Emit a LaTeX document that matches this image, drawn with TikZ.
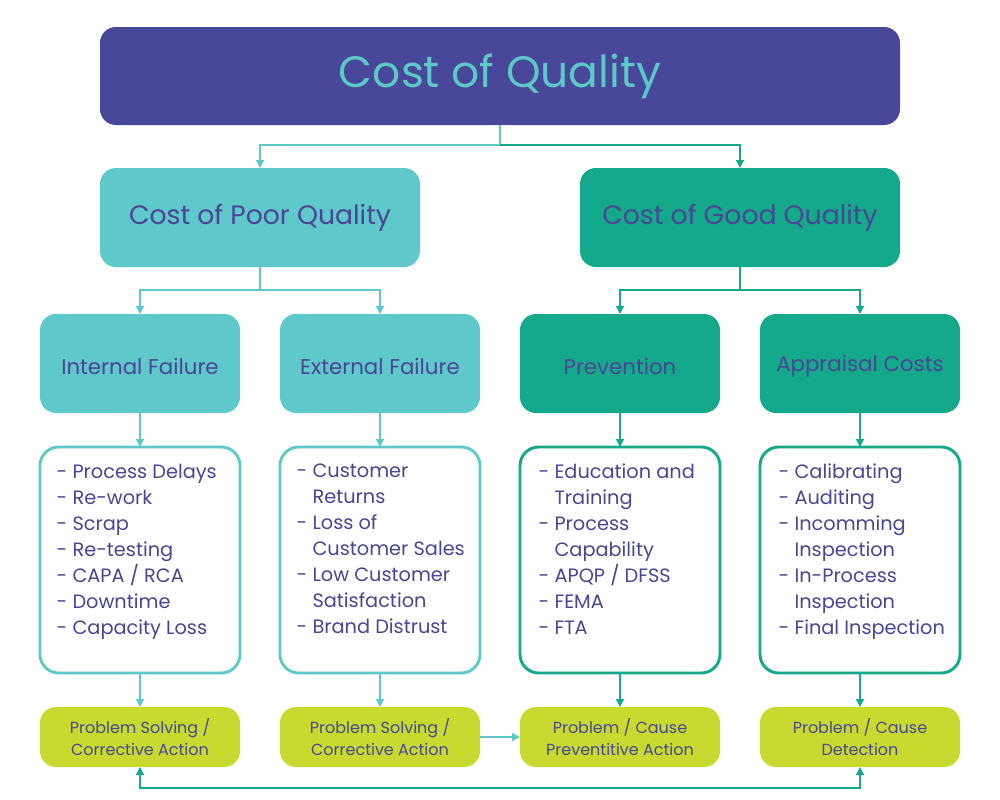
\documentclass[tikz,border=0pt]{standalone}
\usepackage{fontspec}
\setmainfont{Poppins}
\usetikzlibrary{arrows.meta}
\definecolor{indigo}{HTML}{48479A}
\definecolor{txt}{HTML}{4A4594}
\definecolor{lteal}{HTML}{5EC8CB}
\definecolor{dteal}{HTML}{13A98A}
\definecolor{lime}{HTML}{C8D92F}
\definecolor{ttl}{HTML}{5CC9C6}
\begin{document}
\begin{tikzpicture}[x=0.75pt,y=-0.75pt,
  box/.style={rounded corners=12pt,inner sep=0pt},
  lc/.style={draw=lteal,line width=1pt,-{Triangle[length=6pt,width=6pt]}},
  dc/.style={draw=dteal,line width=1pt,-{Triangle[length=6pt,width=6pt]}},
  lst/.style={text=txt,font=\fontsize{14.5}{19.5}\selectfont,align=left,anchor=north west},
  bt/.style={text=txt,font=\fontsize{12}{17}\selectfont,align=center}]
\useasboundingbox (0,0) rectangle (1000,800);
\fill[white] (0,0) rectangle (1000,800);
% title
\fill[indigo,box] (100,27) rectangle (900,125);
\node[text=ttl,font=\fontsize{33}{38}\selectfont] (title) at (500,76) {Cost of Quality};
\coordinate (tb) at (500,125);
% level 2
\fill[lteal,box] (100,168) rectangle (420,267);
\fill[dteal,box] (580,168) rectangle (900,267);
\node[text=txt,font=\fontsize{20}{24}\selectfont] (poor) at (260,218) {Cost of Poor Quality};
\node[text=txt,font=\fontsize{20}{24}\selectfont] (good) at (740,218) {Cost of Good Quality};
\coordinate (pt) at (260,168); \coordinate (gt) at (740,168);
\coordinate (pb) at (260,267); \coordinate (gb) at (740,267);
\draw[lc] (tb) -- (500,145) -| (pt);
\draw[dc] (500,145) -| (gt);
% level 3
\foreach \x/\c/\t/\n in {140/lteal/Internal Failure/a,380/lteal/External Failure/b,620/dteal/Prevention/c,860/dteal/Appraisal Costs/d}{
  \fill[\c,box] (\x-100,314) rectangle (\x+100,413);
  \node[text=txt,font=\fontsize{16}{20}\selectfont] (h\n) at (\x,366) {\t};
  \draw[\c,line width=2.2pt,rounded corners=14pt] (\x-100,447) rectangle (\x+100,673);
  \fill[lime,box] (\x-100,707) rectangle (\x+100,767);
  \coordinate (ht\n) at (\x,314); \coordinate (hb\n) at (\x,413);
  \coordinate (lt\n) at (\x,447); \coordinate (lb\n) at (\x,673);
  \coordinate (bt\n) at (\x,707); \coordinate (bb\n) at (\x,767);
}
\draw[lc] (pb) -- (260,290) -| (hta);
\draw[lc] (260,290) -| (htb);
\draw[dc] (gb) -- (740,290) -| (htc);
\draw[dc] (740,290) -| (htd);
\draw[lc] (hba) -- (lta); \draw[lc] (hbb) -- (ltb);
\draw[dc] (hbc) -- (ltc); \draw[dc] (hbd) -- (ltd);
\draw[lc] (lba) -- (bta); \draw[lc] (lbb) -- (btb);
\draw[dc] (lbc) -- (btc); \draw[dc] (lbd) -- (btd);
% lists
\node[lst] (la) at (52,459) {- Process Delays\\- Re-work\\- Scrap\\- Re-testing\\- CAPA / RCA\\- Downtime\\- Capacity Loss};
\node[lst] (lb) at (292,459) {- Customer\\\phantom{- }Returns\\- Loss of\\\phantom{- }Customer Sales\\- Low Customer\\\phantom{- }Satisfaction\\- Brand Distrust};
\node[lst] (lc2) at (534,459) {- Education and\\\phantom{- }Training\\- Process\\\phantom{- }Capability\\- APQP / DFSS\\- FEMA\\- FTA};
\node[lst] (ld) at (774,459) {- Calibrating\\- Auditing\\- Incomming\\\phantom{- }Inspection\\- In-Process\\\phantom{- }Inspection\\- Final Inspection};
% bottom
\node[bt] (ba) at (140,737) {Problem Solving /\\Corrective Action};
\node[bt] (bb) at (380,737) {Problem Solving /\\Corrective Action};
\node[bt] (bc) at (620,737) {Problem / Cause\\Preventitive Action};
\node[bt] (bd) at (860,737) {Problem / Cause\\Detection};
\coordinate (br) at (480,737); \coordinate (cl) at (520,737);
\draw[lc] (br) -- (cl);
\draw[dc,{Triangle[length=6pt,width=6pt]}-{Triangle[length=6pt,width=6pt]}] (bbd) -- (860,788) -- (140,788) -- (bba);
\end{tikzpicture}
\end{document}
